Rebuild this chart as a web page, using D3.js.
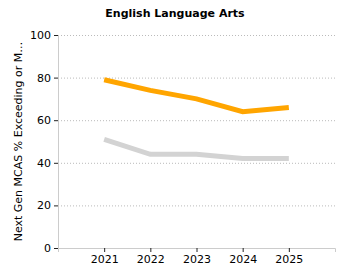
<!DOCTYPE html>
<html>
<head>
<meta charset="utf-8">
<script src="https://cdn.jsdelivr.net/npm/d3@7"></script>
<style>
  body { margin: 0; background: #fff; }
  svg text { font-family: "DejaVu Sans", Verdana, sans-serif; }
</style>
</head>
<body>
<div id="chart"></div>
<script>
const years = [2021, 2022, 2023, 2024, 2025];
const districtValues = [79, 74, 70, 64, 66];
const stateValues = [51, 44, 44, 42, 42];
const yTicks = [0, 20, 40, 60, 80, 100];

const width = 350, height = 280;
const margin = { top: 35, right: 15, bottom: 32, left: 58 };

const svg = d3.select("#chart").append("svg")
    .attr("width", width)
    .attr("height", height);

const x = d3.scaleLinear()
    .domain([2020, 2026])
    .range([margin.left, width - margin.right]);

const y = d3.scaleLinear()
    .domain([0, 100])
    .range([height - margin.bottom, margin.top]);

// gridlines
svg.append("g")
    .selectAll("line")
    .data(yTicks.filter(d => d > 0))
    .join("line")
    .attr("x1", margin.left)
    .attr("x2", width - margin.right)
    .attr("y1", d => y(d) + 0.5)
    .attr("y2", d => y(d) + 0.5)
    .attr("stroke", "#bbb")
    .attr("stroke-dasharray", "1,2");

// axes
const xAxis = svg.append("g")
    .attr("transform", `translate(0,${y(0)})`)
    .call(d3.axisBottom(x).tickValues(years).tickFormat(d3.format("d")).tickSize(4).tickSizeOuter(4));
xAxis.select(".domain").attr("stroke", "#ccc");
xAxis.selectAll(".tick line").attr("stroke", "#222");
xAxis.selectAll("text").attr("font-size", 11).attr("fill", "#000")
    .attr("font-family", "DejaVu Sans, sans-serif");

const yAxis = svg.append("g")
    .attr("transform", `translate(${margin.left},0)`)
    .call(d3.axisLeft(y).tickValues(yTicks).tickSize(4).tickSizeOuter(0));
yAxis.select(".domain").attr("stroke", "#ccc");
yAxis.selectAll(".tick line").attr("stroke", "#222");
yAxis.selectAll("text").attr("font-size", 11).attr("fill", "#000")
    .attr("font-family", "DejaVu Sans, sans-serif");

// lines
const line = d3.line()
    .x((d, i) => x(years[i]))
    .y(d => y(d));

svg.append("path")
    .datum(stateValues)
    .attr("d", line)
    .attr("fill", "none")
    .attr("stroke", "#d3d3d3")
    .attr("stroke-width", 5);

svg.append("path")
    .datum(districtValues)
    .attr("d", line)
    .attr("fill", "none")
    .attr("stroke", "orange")
    .attr("stroke-width", 5);

// title
svg.append("text")
    .attr("x", width / 2)
    .attr("y", 17)
    .attr("text-anchor", "middle")
    .attr("font-size", 11)
    .attr("font-weight", "bold")
    .text("English Language Arts");

// y label
svg.append("text")
    .attr("transform", `translate(22,${(margin.top + y(0)) / 2}) rotate(-90)`)
    .attr("text-anchor", "middle")
    .attr("font-size", 11)
    .text("Next Gen MCAS % Exceeding or M…");
</script>
</body>
</html>
